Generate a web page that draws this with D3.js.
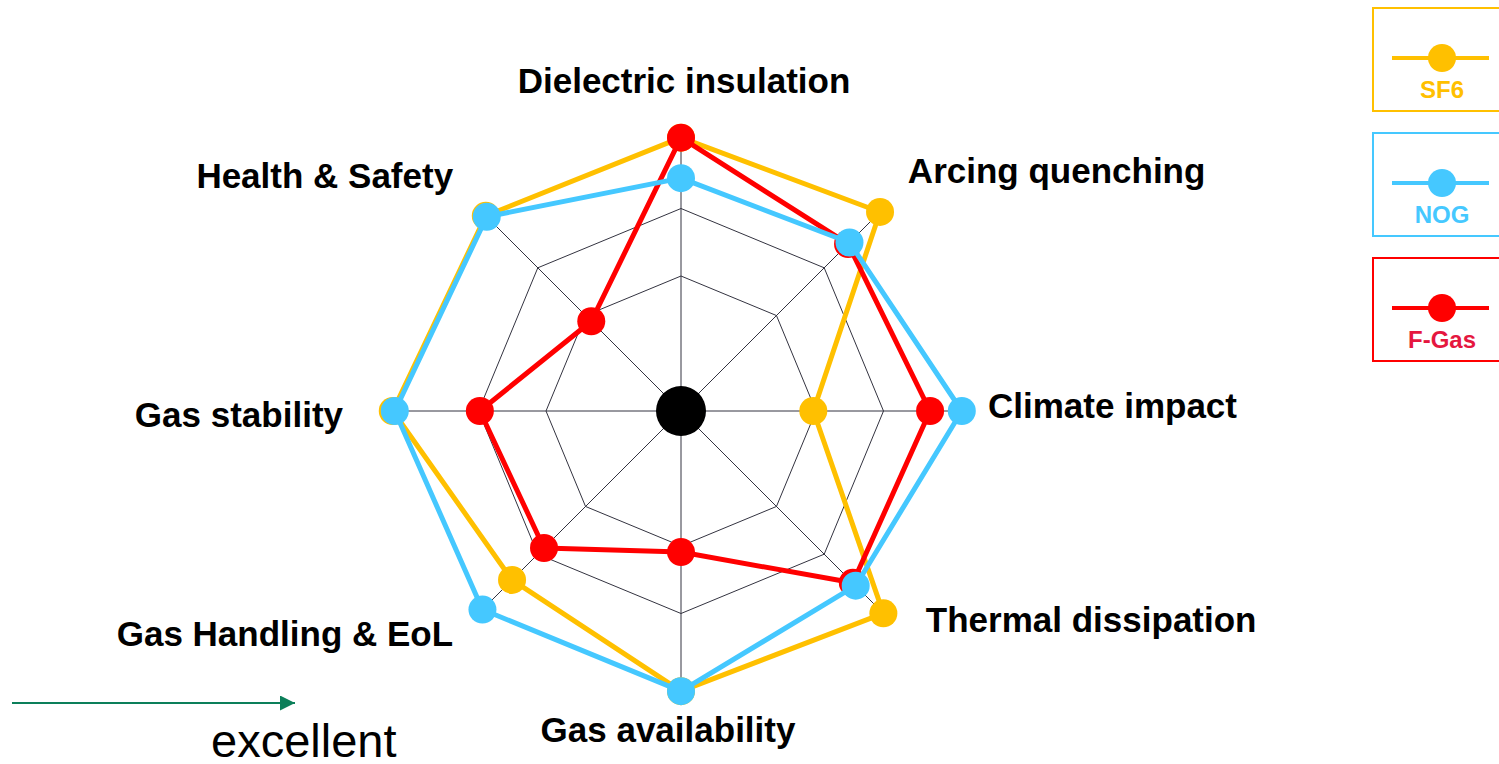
<!DOCTYPE html>
<html>
<head>
<meta charset="utf-8">
<script src="https://cdn.jsdelivr.net/npm/d3@7"></script>
<style>
  html, body { margin: 0; padding: 0; background: #fff; }
  svg { display: block; font-family: Arial, "Liberation Sans", sans-serif; }
</style>
</head>
<body>
<script>
// axes, clockwise from the top
const axes = ["Dielectric insulation", "Arcing quenching", "Climate impact", "Thermal dissipation",
              "Gas availability", "Gas Handling & EoL", "Gas stability", "Health & Safety"];

// scores (0..4, outer = excellent)
const sf6Values  = [4.05, 4.17, 1.96, 4.24, 4.15, 3.54, 4.27, 4.09];
const nogValues  = [3.45, 3.53, 4.16, 3.66, 4.15, 4.16, 4.24, 4.07];
const fgasValues = [4.05, 3.50, 3.69, 3.60, 2.09, 2.87, 2.98, 1.88];

const seriesNames  = ["SF6", "NOG", "F-Gas"];
const seriesColors = ["#FFC000", "#45C8FF", "#FF0000"];
const labelColors  = ["#FFC000", "#45C8FF", "#E5173F"];
const gridLevels   = [2, 3];

const W = 1499, H = 764;
const cx = 681, cy = 411;

const svg = d3.select("body").append("svg").attr("width", W).attr("height", H);

const r = d3.scaleLinear().domain([0, 4]).range([0, 270]);
const angle = d3.scaleLinear().domain([0, axes.length]).range([0, 2 * Math.PI]);
const pt = (i, v) => [cx + r(v) * Math.sin(angle(i)), cy - r(v) * Math.cos(angle(i))];

const grid = svg.append("g");
// spokes
grid.selectAll("line").data(axes).join("line")
  .attr("x1", cx).attr("y1", cy)
  .attr("x2", (d, i) => pt(i, 4.24)[0])
  .attr("y2", (d, i) => pt(i, 4.24)[1])
  .attr("stroke", "#333340").attr("stroke-width", 1);
// rings
grid.selectAll("polygon").data(gridLevels).join("polygon")
  .attr("points", lv => axes.map((d, i) => pt(i, lv).join(",")).join(" "))
  .attr("fill", "none").attr("stroke", "#333340").attr("stroke-width", 1);

// centre dot
svg.append("circle").attr("cx", cx).attr("cy", cy).attr("r", 25).attr("fill", "#000");

// draw order: SF6, F-Gas, NOG
const series = [
  { name: "SF6", values: sf6Values, color: seriesColors[0] },
  { name: "F-Gas", values: fgasValues, color: seriesColors[2] },
  { name: "NOG", values: nogValues, color: seriesColors[1] }
];

const line = d3.line().curve(d3.curveLinearClosed);
series.forEach(s => {
  const g = svg.append("g");
  g.append("path")
    .attr("d", line(s.values.map((v, i) => pt(i, v))))
    .attr("fill", "none").attr("stroke", s.color).attr("stroke-width", 5)
    .attr("stroke-linejoin", "round");
  g.selectAll("circle").data(s.values).join("circle")
    .attr("cx", (v, i) => pt(i, v)[0])
    .attr("cy", (v, i) => pt(i, v)[1])
    .attr("r", 14).attr("fill", s.color);
});

// axis labels
const labelNudge = [[3, 0], [2, -3], [-11, 7], [20, -4], [-13, 13], [-3, 10], [-20, 16], [-3, 2]];
svg.append("g").selectAll("text").data(axes).join("text")
  .attr("x", (d, i) => pt(i, 318 / 67.5)[0] + labelNudge[i][0])
  .attr("y", (d, i) => pt(i, 318 / 67.5)[1] + labelNudge[i][1])
  .attr("text-anchor", (d, i) => {
    const s = Math.sin(angle(i));
    return Math.abs(s) < 0.01 ? "middle" : (s > 0 ? "start" : "end");
  })
  .attr("font-size", 35).attr("font-weight", "bold").attr("fill", "#000")
  .text(d => d);

// legend boxes
const legend = svg.append("g");
seriesNames.forEach((name, k) => {
  const top = 7 + k * 125;
  const g = legend.append("g").attr("transform", `translate(1372,${top})`);
  g.append("rect").attr("x", 1).attr("y", 1).attr("width", 150).attr("height", 103)
    .attr("fill", "#fff").attr("stroke", seriesColors[k]).attr("stroke-width", 2);
  g.append("line").attr("x1", 20).attr("x2", 117).attr("y1", 51).attr("y2", 51)
    .attr("stroke", seriesColors[k]).attr("stroke-width", 4);
  g.append("circle").attr("cx", 70).attr("cy", 51).attr("r", 14).attr("fill", seriesColors[k]);
  g.append("text").attr("x", 70).attr("y", 91).attr("text-anchor", "middle")
    .attr("font-size", 24).attr("font-weight", "bold").attr("fill", labelColors[k])
    .text(name);
});

// "excellent" arrow
svg.append("defs").append("marker")
  .attr("id", "arr").attr("viewBox", "0 0 10 10").attr("refX", 10).attr("refY", 5)
  .attr("markerWidth", 16).attr("markerHeight", 15).attr("markerUnits", "userSpaceOnUse")
  .attr("orient", "auto")
  .append("path").attr("d", "M0,0 L10,5 L0,10 Z").attr("fill", "#0C7F5A");
svg.append("line").attr("x1", 12).attr("x2", 295).attr("y1", 703).attr("y2", 703)
  .attr("stroke", "#0C7F5A").attr("stroke-width", 2).attr("marker-end", "url(#arr)");
svg.append("text").attr("x", 211).attr("y", 757)
  .attr("font-size", 47).attr("fill", "#000").text("excellent");
</script>
</body>
</html>
